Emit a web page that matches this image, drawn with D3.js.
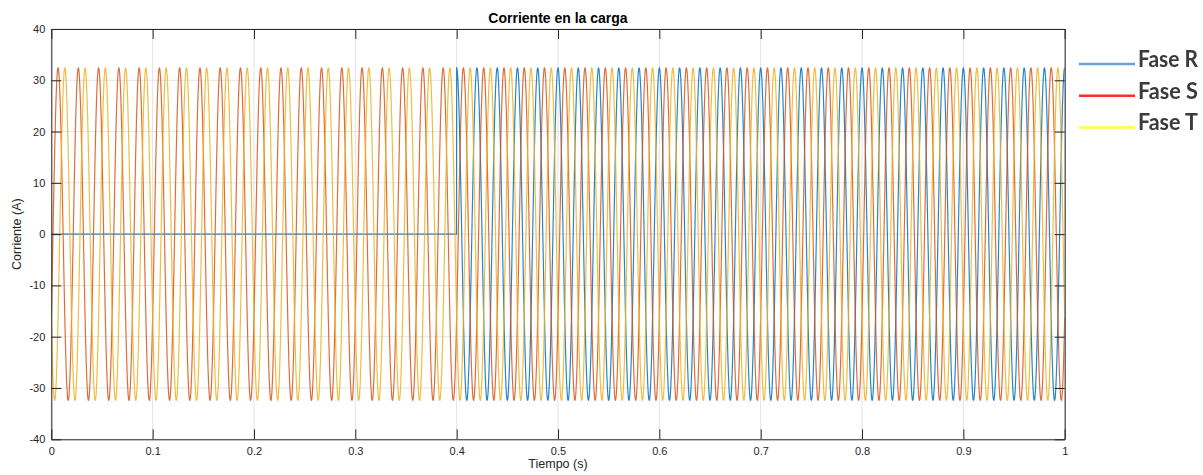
<!DOCTYPE html>
<html>
<head>
<meta charset="utf-8">
<script src="https://cdn.jsdelivr.net/npm/d3@7"></script>
<style>
  html, body { margin: 0; padding: 0; background: #ffffff; }
  svg { display: block; }
</style>
</head>
<body>
<svg id="chart" width="1203" height="475"></svg>
<script>
// Three-phase load current: 50 Hz sinusoids, phase R switched on at 0.4 s
const phaseNames = ["Fase R", "Fase S", "Fase T"];
const amplitudes = [32.4, 32.4, 32.4];        // A
const frequencyHz = 50;                        // Hz
const phaseDeg = [0, -120, 120];               // degrees
const startTimes = [0.4, 0, 0];                // s, current is zero before this
const lineColors = ["#0072BD", "#D95319", "#EDB120"];
const legendColors = ["#6b9fd9", "#ff2d2d", "#ffff3c"];

const xTicks = [0, 0.1, 0.2, 0.3, 0.4, 0.5, 0.6, 0.7, 0.8, 0.9, 1];
const yTicks = [-40, -30, -20, -10, 0, 10, 20, 30, 40];
const tStart = 0, tEnd = 1, sampleCount = 10000;

const svg = d3.select("#chart");
const plot = { left: 51.3, right: 1064.7, top: 29, bottom: 439.3 };

const x = d3.scaleLinear().domain([tStart, tEnd]).range([plot.left, plot.right]);
const y = d3.scaleLinear().domain([-40, 40]).range([plot.bottom, plot.top]);

// sampled waveforms
const times = d3.range(sampleCount + 1).map(i => tStart + (tEnd - tStart) * i / sampleCount);
const series = phaseNames.map((name, k) => times.map(t => ({
  t,
  v: t < startTimes[k] ? 0
     : amplitudes[k] * Math.cos(2 * Math.PI * frequencyHz * t + phaseDeg[k] * Math.PI / 180)
})));

const axisColor = "#262626";
const gridColor = "#e3e3e3";
const font = "Helvetica, 'Liberation Sans', Arial, sans-serif";

// grid
const grid = svg.append("g");
grid.selectAll("line.gx").data(xTicks).join("line")
  .attr("x1", d => x(d)).attr("x2", d => x(d))
  .attr("y1", plot.top).attr("y2", plot.bottom)
  .attr("stroke", gridColor).attr("stroke-width", 1);
grid.selectAll("line.gy").data(yTicks).join("line")
  .attr("x1", plot.left).attr("x2", plot.right)
  .attr("y1", d => y(d)).attr("y2", d => y(d))
  .attr("stroke", gridColor).attr("stroke-width", 1);

// clip to axes box
svg.append("clipPath").attr("id", "plotClip").append("rect")
  .attr("x", plot.left).attr("y", plot.top)
  .attr("width", plot.right - plot.left).attr("height", plot.bottom - plot.top);

const line = d3.line().x(d => x(d.t)).y(d => y(d.v));
svg.append("g").attr("clip-path", "url(#plotClip)")
  .selectAll("path").data(series).join("path")
  .attr("d", line)
  .attr("fill", "none")
  .attr("stroke", (d, i) => lineColors[i])
  .attr("stroke-width", 1.2)
  .attr("stroke-opacity", 0.85);

// axes with inward ticks on all four sides
const tickLen = 10;
const fmt = d => String(d);
const xAxisB = d3.axisBottom(x).tickValues(xTicks).tickSizeInner(-tickLen).tickSizeOuter(0).tickPadding(8).tickFormat(fmt);
const xAxisT = d3.axisTop(x).tickValues(xTicks).tickSizeInner(-tickLen).tickSizeOuter(0).tickFormat("");
const yAxisL = d3.axisLeft(y).tickValues(yTicks).tickSizeInner(-tickLen).tickSizeOuter(0).tickPadding(6).tickFormat(fmt);
const yAxisR = d3.axisRight(y).tickValues(yTicks).tickSizeInner(-tickLen).tickSizeOuter(0).tickFormat("");

function styleAxis(g) {
  g.select(".domain").attr("stroke", axisColor).attr("stroke-width", 1);
  g.selectAll(".tick line").attr("stroke", axisColor).attr("stroke-width", 1);
  g.selectAll(".tick text").attr("fill", axisColor).attr("font-family", font).attr("font-size", 11);
}
svg.append("g").attr("transform", `translate(0,${plot.bottom})`).call(xAxisB).call(styleAxis);
svg.append("g").attr("transform", `translate(0,${plot.top})`).call(xAxisT).call(styleAxis);
svg.append("g").attr("transform", `translate(${plot.left},0)`).call(yAxisL).call(styleAxis);
svg.append("g").attr("transform", `translate(${plot.right},0)`).call(yAxisR).call(styleAxis);

// title and axis labels
svg.append("text").attr("x", (plot.left + plot.right) / 2).attr("y", 23)
  .attr("text-anchor", "middle").attr("font-family", font).attr("font-weight", "bold")
  .attr("font-size", 14).attr("fill", "#000").text("Corriente en la carga");
svg.append("text").attr("x", (plot.left + plot.right) / 2).attr("y", 468)
  .attr("text-anchor", "middle").attr("font-family", font)
  .attr("font-size", 12.5).attr("fill", axisColor).text("Tiempo (s)");
svg.append("text").attr("transform", `translate(21,${(plot.top + plot.bottom) / 2}) rotate(-90)`)
  .attr("text-anchor", "middle").attr("font-family", font)
  .attr("font-size", 12.5).attr("fill", axisColor).text("Corriente (A)");

// legend beside the axes, slightly soft
const defs = svg.append("defs");
defs.append("filter").attr("id", "soft").append("feGaussianBlur").attr("stdDeviation", 0.5);
const legend = svg.append("g").attr("transform", "translate(1079,64)").attr("filter", "url(#soft)");
const legendRows = legend.selectAll("g").data(phaseNames).join("g")
  .attr("transform", (d, i) => `translate(0,${i * 31.7})`);
legendRows.append("line").attr("x1", 0).attr("x2", 56).attr("y1", 0).attr("y2", 0)
  .attr("stroke", (d, i) => legendColors[i]).attr("stroke-width", 2.5);
legendRows.append("text").attr("x", 59).attr("y", 3)
  .attr("font-family", "Lato, 'Open Sans', sans-serif").attr("font-size", 22)
  .attr("font-weight", "bold")
  .attr("fill", "#3a3a3a").attr("textLength", 60).attr("lengthAdjust", "spacingAndGlyphs")
  .text(d => d);
</script>
</body>
</html>
